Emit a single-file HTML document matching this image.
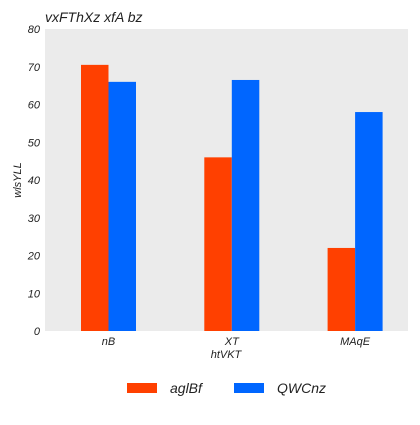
<!DOCTYPE html>
<html><head><meta charset="utf-8"><style>
body{margin:0;background:#fff;}
svg text{font-family:"Liberation Sans",sans-serif;font-style:italic;fill:#222;}
</style></head><body>
<svg width="420" height="420" viewBox="0 0 420 420" xmlns="http://www.w3.org/2000/svg">
<text x="45" y="22" font-size="14">vxFThXz xfA bz</text>
<rect x="45" y="29" width="363" height="302" fill="#ebebeb"/>
<g id="yticks"></g>
<g id="bars"></g>
<g id="xticks"></g>
<text x="226" y="358" font-size="11" text-anchor="middle">htVKT</text>
<text transform="translate(21,180) rotate(-90)" font-size="11" text-anchor="middle">wlsYLL</text>
<g>
<rect x="127" y="383" width="30" height="10" fill="#ff4000"/>
<text x="170" y="393" font-size="14">aglBf</text>
<rect x="234" y="383" width="30" height="10" fill="#0066ff"/>
<text x="277" y="393" font-size="14">QWCnz</text>
</g>
</svg>
<script>
const categories=["nB","XT","MAqE"];
const seriesA=[70.5,46,22];
const seriesB=[66,66.5,58];
const yTicks=[0,10,20,30,40,50,60,70,80];
const NS="http://www.w3.org/2000/svg";
const y=v=>331-v*(302/80);
const xc=i=>108.5+i*123.3;
const bw=27.5;
const yt=document.getElementById('yticks');
yTicks.forEach(t=>{const e=document.createElementNS(NS,'text');
e.setAttribute('x',40);e.setAttribute('y',y(t)+4);e.setAttribute('font-size','11');e.setAttribute('text-anchor','end');e.textContent=t;


yt.appendChild(e);});
const bg=document.getElementById('bars');
categories.forEach((c,i)=>{
[[seriesA,'#ff4000',-bw],[seriesB,'#0066ff',0]].forEach(([s,col,off],k)=>{
const r=document.createElementNS(NS,'rect');
r.setAttribute('x',xc(i)+off);r.setAttribute('y',y(s[i]));r.setAttribute('width',bw);r.setAttribute('height',331-y(s[i]));r.setAttribute('fill',col);


bg.appendChild(r);});
const t=document.createElementNS(NS,'text');
t.setAttribute('x',xc(i));t.setAttribute('y',345);t.setAttribute('font-size','11');t.setAttribute('text-anchor','middle');t.textContent=c;


document.getElementById('xticks').appendChild(t);});
</script>
</body></html>
